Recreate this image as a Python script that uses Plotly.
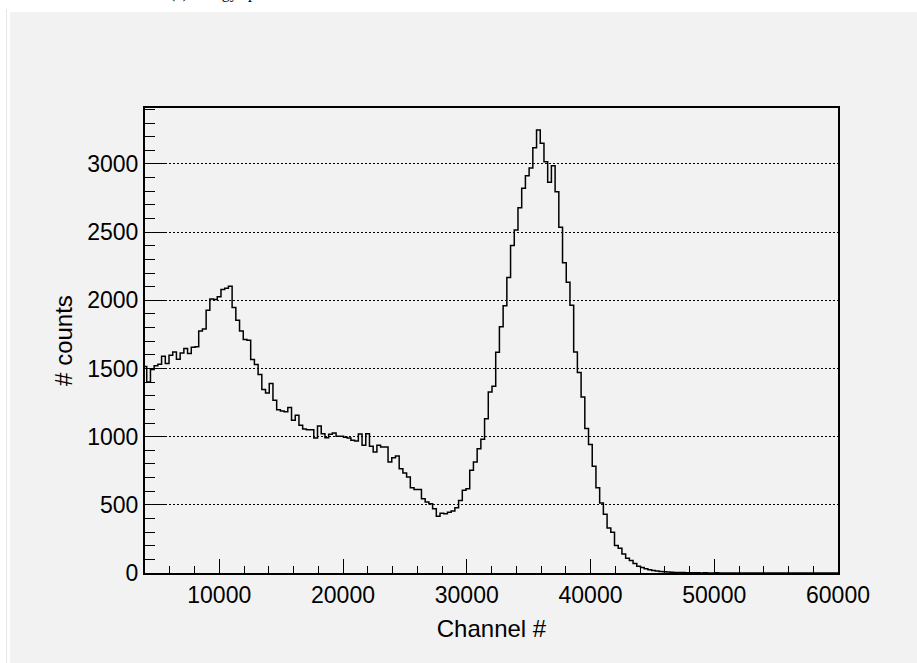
import numpy as np
import plotly.graph_objects as go

# ---- data ----
bin_first_edge = 3840      # channel of the first bin's lower edge
bin_width = 300            # channels per bin
counts = [
    1515, 1401, 1492, 1520, 1530, 1590, 1536, 1597, 1621, 1567,
    1614, 1646, 1609, 1655, 1660, 1775, 1790, 1927, 2010, 2006,
    2025, 2079, 2089, 2103, 1947, 1854, 1775, 1712, 1707, 1565,
    1529, 1455, 1345, 1320, 1389, 1266, 1198, 1188, 1183, 1213,
    1120, 1156, 1083, 1056, 1051, 1051, 990, 1078, 1022, 992,
    1017, 1027, 1002, 1002, 995, 990, 973, 968, 1019, 936,
    1022, 929, 887, 936, 924, 924, 814, 846, 858, 765,
    733, 704, 626, 613, 613, 545, 520, 508, 471, 417,
    439, 434, 446, 454, 479, 532, 606, 618, 753, 814,
    912, 980, 1132, 1328, 1369, 1619, 1805, 1959, 2167, 2402,
    2515, 2678, 2821, 2913, 2970, 3119, 3249, 3151, 3016, 2865,
    2987, 2796, 2535, 2275, 2133, 1964, 1621, 1470, 1291, 1059,
    943, 782, 626, 513, 430, 330, 298, 202, 182, 140,
    108, 92, 70, 50, 40, 31, 23, 18, 14, 11,
    9, 7, 5, 4, 3, 3, 2, 2, 1, 1,
    0, 1, 0, 0, 1, 0, 0, 0, 0, 0,
    0, 0, 0, 0, 0, 0, 0, 0, 0, 0,
    0, 0, 0, 0, 0, 0, 0, 0, 0, 0,
    0, 0, 0, 0, 0, 0, 0, 0,
]
x_range = [4000, 60000]
y_range = [0, 3410]
x_ticks = [10000, 20000, 30000, 40000, 50000, 60000]
y_ticks = [0, 500, 1000, 1500, 2000, 2500, 3000]
title_text = "(c) Energy spectrum"
x_title = "Channel #"
y_title = "# counts"

edges = bin_first_edge + bin_width * np.arange(len(counts) + 1)
yvals = list(counts) + [counts[-1]]

W, H = 917, 663
ML, MR, MT, MB = 145, 79, 108, 90
PW, PH = W - ML - MR, H - MT - MB


def px_x(p):
    return (p - ML) / PW


def px_y(p):
    return (H - MB - p) / PH


GREY = "#f2f2f2"
FONT = "Liberation Sans, Arial, Helvetica, sans-serif"

fig = go.Figure()
fig.add_trace(go.Scatter(
    x=edges, y=yvals, mode="lines", line_shape="hv",
    line=dict(color="black", width=1.5), hoverinfo="skip", showlegend=False,
))

axis_common = dict(
    showline=True, linecolor="black", linewidth=2, mirror=True,
    ticks="inside", tickcolor="black", tickwidth=1,
    tickfont=dict(family=FONT, size=23, color="black"),
    zeroline=False,
)

fig.update_xaxes(
    range=x_range, tickvals=x_ticks, tickformat="d", ticklen=14,
    showgrid=False,
    minor=dict(dtick=2000, tick0=0, ticks="inside", ticklen=7,
               tickcolor="black", tickwidth=1, showgrid=False),
    title=dict(text=x_title, font=dict(family=FONT, size=24, color="black"),
               standoff=14),
    **axis_common,
)
fig.update_yaxes(
    range=y_range, tickvals=y_ticks, tickformat="d", ticklen=20,
    showgrid=True, gridcolor="black", gridwidth=1, griddash="2px,2px",
    minor=dict(dtick=100, tick0=0, ticks="inside", ticklen=10,
               tickcolor="black", tickwidth=1, showgrid=False),
    title=dict(text=y_title, font=dict(family=FONT, size=24, color="black"),
               standoff=8),
    **axis_common,
)

fig.update_layout(
    width=W, height=H,
    margin=dict(l=ML, r=MR, t=MT, b=MB, autoexpand=False),
    paper_bgcolor="white", plot_bgcolor=GREY,
    shapes=[
        dict(type="rect", xref="paper", yref="paper", layer="below",
             x0=px_x(10), x1=px_x(W + 5), y0=px_y(H + 5), y1=px_y(12),
             fillcolor=GREY, line=dict(width=0)),
        dict(type="line", xref="paper", yref="paper", layer="below",
             x0=px_x(6.5), x1=px_x(6.5), y0=px_y(H + 5), y1=px_y(9),
             line=dict(color="#e6e6e6", width=1)),
    ],
    annotations=[
        dict(text=title_text, xref="paper", yref="paper",
             x=px_x(168), y=px_y(4), xanchor="left", yanchor="bottom",
             showarrow=False,
             font=dict(family="Liberation Serif, Times New Roman, serif",
                       size=16, color="black")),
    ],
)

fig.write_html("out.html")
